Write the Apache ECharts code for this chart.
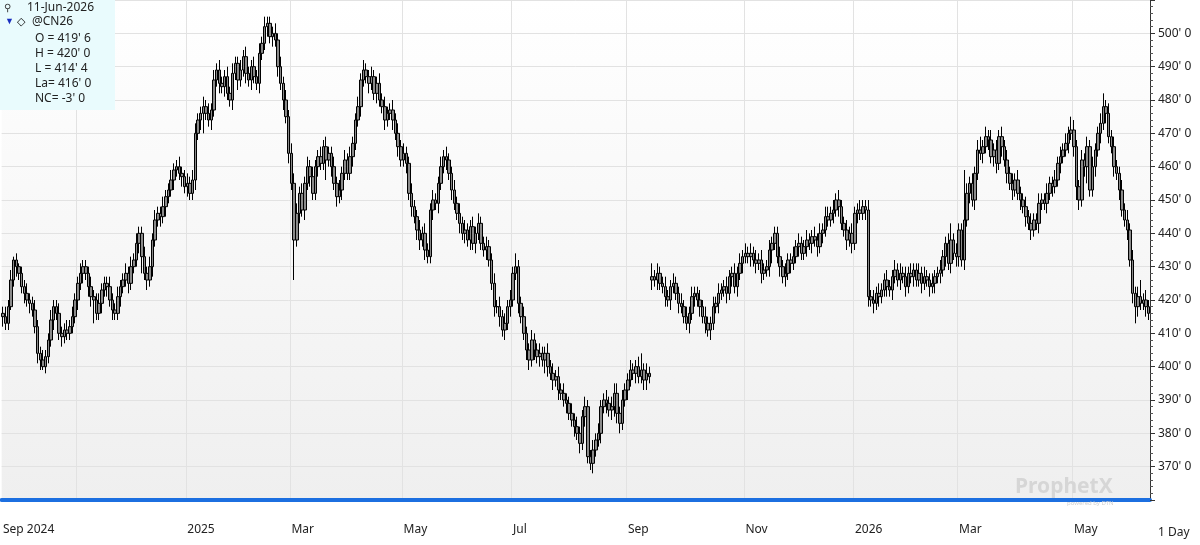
<!DOCTYPE html>
<html>
<head>
<meta charset="utf-8">
<script src="https://cdn.jsdelivr.net/npm/echarts@6/dist/echarts.min.js"></script>
<style>
  html, body { margin: 0; padding: 0; background: #fff; }
  #chart { width: 1200px; height: 545px; }
</style>
</head>
<body>
<div id="chart"></div>
<script>
// daily closes (cents/bu), last bar = 11-Jun-2026
const closes = [
  415,413,418,426,432,430,428,424,422,420,
  419,417,412,404,402,400,403,408,414,418,
  416,410,409,411,410,412,415,420,425,428,
  430,428,424,421,420,416,419,423,425,424,
  420,417,416,421,424,426,428,425,430,432,
  437,440,433,428,426,430,438,444,446,445,
  448,451,453,456,459,460,458,457,454,455,
  452,456,470,474,476,478,476,474,477,486,
  489,485,484,487,482,480,488,491,486,489,
  493,488,486,490,487,485,494,497,502,503,
  499,500,498,490,485,480,475,464,455,438,
  446,452,447,455,460,457,452,460,463,461,
  466,462,464,460,455,451,453,458,462,458,
  463,467,474,478,486,489,487,485,487,482,
  485,480,478,474,476,477,474,470,466,462,
  464,461,452,448,445,441,438,440,435,433,
  447,450,449,455,460,463,462,458,453,449,
  446,443,440,441,438,442,437,440,443,437,
  435,436,432,425,418,418,415,411,413,418,
  420,428,430,419,415,410,405,402,408,405,
  403,404,402,404,400,398,396,397,393,392,
  390,389,386,384,382,380,377,385,388,373,
  371,375,378,380,388,390,389,387,388,392,
  386,383,390,393,396,399,398,400,397,399,
  396,398,397,427,426,428,425,424,421,420,
  424,425,422,419,418,415,413,416,421,422,
  420,418,415,413,411,413,418,419,422,423,
  424,422,427,428,424,428,431,433,434,433,
  434,432,431,432,428,429,430,435,437,440,
  433,430,427,428,432,431,433,436,437,434,
  436,438,437,439,438,436,440,441,445,444,
  446,447,450,448,443,441,438,440,437,446,
  447,446,448,447,421,420,419,422,421,423,
  426,424,423,427,429,426,428,427,424,428,
  427,429,426,428,425,427,426,424,425,427,
  428,429,433,437,431,438,434,433,441,432,
  444,452,455,450,458,465,464,466,469,468,
  463,465,461,469,466,462,458,455,453,456,
  452,450,448,445,443,441,444,443,449,450,
  449,452,455,454,456,461,463,465,467,470,
  471,466,454,450,462,460,466,453,460,465,
  470,473,478,476,469,466,460,458,453,447,
  444,441,432,422,418,421,419,420,418,416
];
// how far each day's high reaches above its body
const wickUp = [
  2,3,2,3,1,2,1,2,2,3, 2,2,3,2,2,3,2,2,3,2, 2,3,2,2,3,2,3,2,2,3, 2,2,2,3,2,2,3,2,2,2,
  3,2,2,3,2,2,3,2,3,2, 3,2,2,3,2,3,2,3,2,2, 3,2,2,3,2,2,3,2,2,3, 2,3,3,2,2,3,2,3,2,3,
  2,3,2,2,3,2,3,2,2,3, 2,3,2,2,3,2,3,2,3,2, 2,2,3,2,3,2,3,2,3,3, 3,2,3,2,3,2,3,2,2,3,
  2,3,2,2,3,2,3,2,3,2, 3,2,2,3,2,3,2,2,3,2, 2,3,2,3,2,2,3,2,3,2, 3,2,2,3,2,2,3,2,3,2,
  2,3,2,2,3,2,3,2,2,3, 2,3,2,3,2,2,3,2,3,2, 2,3,2,2,3,2,3,2,3,2, 3,2,4,2,2,3,2,2,3,2,
  2,3,2,2,3,2,3,2,3,2, 3,2,2,3,2,3,2,2,3,2, 2,3,2,3,2,2,3,2,3,3, 3,2,3,2,2,3,2,2,3,5,
  2,3,2,4,2,3,2,2,3,2, 2,3,2,2,3,2,3,2,3,2, 2,3,2,3,2,2,3,2,3,2, 2,3,2,2,3,2,3,2,3,2,
  3,2,3,2,3,2,2,3,2,2, 2,3,2,3,2,2,3,2,3,2, 2,3,2,2,3,2,3,2,3,3, 2,3,2,3,2,2,3,2,3,2,
  2,3,2,2,3,2,3,2,3,2, 2,3,2,2,3,2,3,2,3,2, 3,2,2,3,2,3,2,2,3,2, 2,3,2,2,3,5,2,3,2,2,
  15,3,2,3,2,3,4,2,3,2, 3,2,3,2,3,2,3,2,3,2, 3,2,2,3,2,3,2,2,3,2, 2,3,2,2,3,2,3,2,3,2,
  4,3,2,2,3,2,3,2,3,2, 2,3,4,2,3,2,3,2,2,3, 2,3,2,3,2,3,5,2,3,2
];
// how far each day's low reaches below its body
const wickDown = [
  3,2,2,1,2,3,2,2,3,2, 3,2,2,3,3,1,2,2,2,3, 2,2,3,2,2,2,2,2,3,2, 3,2,3,3,7,2,2,3,2,3,
  2,3,2,2,3,2,2,3,2,2, 2,3,5,2,3,2,3,2,2,3, 2,3,2,2,3,2,2,3,2,3, 2,2,3,2,3,6,2,2,3,2,
  2,3,2,3,2,2,3,2,3,2, 2,3,2,3,2,2,3,2,2,3, 2,3,2,3,2,3,2,3,2,12, 2,3,2,3,2,3,2,2,3,2,
  2,6,2,3,2,3,2,3,2,2, 2,3,2,2,3,2,2,3,2,2, 3,2,2,3,2,2,3,2,3,2, 2,3,2,3,2,3,3,2,3,2,
  2,3,2,3,2,2,3,2,3,2, 2,3,2,3,2,3,2,3,2,2, 2,3,2,2,3,2,3,2,3,2, 3,2,2,3,2,2,3,3,2,3,
  2,3,2,4,3,2,3,2,3,2, 2,3,2,2,3,2,3,2,3,2, 2,3,2,2,3,2,3,2,3,3, 3,3,2,2,3,2,2,3,2,2,
  3,3,2,3,2,3,2,2,3,2, 3,2,2,3,2,2,2,3,2,3, 2,3,2,3,2,3,2,2,3,2, 2,3,2,3,2,3,2,3,2,2,
  3,2,3,2,3,2,2,3,4,2, 2,3,2,3,2,3,2,2,3,2, 2,3,2,3,2,3,2,3,2,2, 2,3,2,3,2,2,3,2,3,2,
  3,2,2,3,3,2,3,2,3,2, 2,3,2,3,2,2,3,2,3,2, 2,3,2,2,3,2,2,3,2,3, 2,3,2,3,2,3,2,3,3,2,
  3,2,3,2,3,2,2,3,2,3, 2,3,3,2,3,2,3,2,3,2, 2,3,2,3,2,3,2,2,3,2, 2,3,2,3,2,2,3,2,2,3,
  2,3,4,3,2,3,5,2,2,3, 2,3,2,3,2,2,3,2,3,2, 2,3,2,3,5,3,2,2,3,2
];
const holidays = ['2024-09-02','2024-11-28','2024-12-25','2025-01-01','2025-01-09','2025-01-20',
  '2025-02-17','2025-04-18','2025-05-26','2025-06-19','2025-07-04','2025-09-01','2025-11-27',
  '2025-12-25','2026-01-01','2026-01-19','2026-02-16','2026-04-03','2026-05-25'];
const monthNames = ['Jan','Feb','Mar','Apr','May','Jun','Jul','Aug','Sep','Oct','Nov','Dec'];
const labelMonths = [0, 2, 4, 6, 8, 10];

// trading days, counted back from the last bar
const dates = [];
let d = new Date(Date.UTC(2026, 5, 11));
while (dates.length < closes.length) {
    const s = d.toISOString().slice(0, 10);
    const wd = d.getUTCDay();
    if (wd !== 0 && wd !== 6 && holidays.indexOf(s) < 0) dates.unshift(s);
    d.setUTCDate(d.getUTCDate() - 1);
}
const monthStart = dates.map((s, i) => i > 0 && s.slice(5, 7) !== dates[i - 1].slice(5, 7));
const isGridMonth = (i) => monthStart[i] && labelMonths.indexOf(+dates[i].slice(5, 7) - 1) >= 0;
const isLabel = (i) => i === 0 || (isGridMonth(i) && dates[i].slice(0, 7) !== '2024-11');

const ohlc = closes.map((c, i) => {
    let o = i > 0 ? closes[i - 1] : c + 1;
    if (c - o > 20) o = c - 1;   // contract roll gap
    const hi = Math.max(o, c) + wickUp[i];
    const lo = Math.min(o, c) - wickDown[i];
    return [o, c, lo, hi];
});

const chart = echarts.init(document.getElementById('chart'));
const font = 'Noto Sans';
option = {
    animation: false,
    backgroundColor: '#fff',
    textStyle: { fontFamily: font },
    grid: {
        left: 0, right: 50, top: 0, bottom: 45, show: true, borderWidth: 0,
        backgroundColor: new echarts.graphic.LinearGradient(0, 0, 0, 1, [
            { offset: 0, color: '#ffffff' }, { offset: 1, color: '#efefef' }])
    },
    xAxis: {
        type: 'category',
        data: dates,
        boundaryGap: true,
        axisLine: { lineStyle: { color: '#1c6fe0', width: 4 } },
        axisTick: {
            interval: (i) => monthStart[i], length: 5,
            lineStyle: { color: '#555' }
        },
        axisLabel: {
            interval: (i) => isLabel(i),
            align: 'left', margin: 24, color: '#222', fontSize: 12, fontFamily: font,
            formatter: (v, i) => {
                const m = +v.slice(5, 7) - 1;
                if (i === 0) return monthNames[m] + ' ' + v.slice(0, 4);
                if (m === 0) return v.slice(0, 4);
                return monthNames[m];
            }
        },
        splitLine: { show: true, interval: (i) => isGridMonth(i), lineStyle: { color: '#e2e2e2' } }
    },
    yAxis: {
        type: 'value',
        position: 'right',
        min: 360, max: 510, interval: 10,
        axisLine: { show: true, lineStyle: { color: '#333' } },
        axisTick: { show: true, length: 5, lineStyle: { color: '#333' } },
        minorTick: { show: true, splitNumber: 5, length: 3, lineStyle: { color: '#555' } },
        axisLabel: {
            color: '#222', fontSize: 12, fontFamily: font, margin: 8,
            formatter: (v) => (v === 360 || v === 510) ? '' : v + "' 0"
        },
        splitLine: { lineStyle: { color: '#e2e2e2' } }
    },
    series: [{
        type: 'candlestick',
        data: ohlc,
        barWidth: 3,
        itemStyle: {
            color: '#8a8a8a', color0: '#8a8a8a',
            borderColor: '#000', borderColor0: '#000', borderWidth: 1
        },
        markLine: {
            silent: true, symbol: 'none',
            lineStyle: { opacity: 0 },
            label: {
                position: 'end', distance: 4, formatter: "416' 0",
                color: '#fff', backgroundColor: '#000', padding: [2, 10, 2, 3],
                fontSize: 12, fontFamily: font
            },
            data: [{ yAxis: 416 }]
        }
    }],
    graphic: [
        { type: 'rect', left: 0, top: 0, shape: { width: 115, height: 110 }, style: { fill: '#e9fbfd' }, z: 10 },
        { type: 'text', left: 4, top: 3, style: { text: '⚲', fontSize: 10, fill: '#333' }, z: 11 },
        { type: 'text', left: 27, top: 2, style: { text: '11-Jun-2026', fontSize: 12, fill: '#222', fontFamily: font }, z: 11 },
        { type: 'text', left: 5, top: 17, style: { text: '▼', fontSize: 9, fill: '#1a2fc0' }, z: 11 },
        { type: 'text', left: 17, top: 16, style: { text: '◇', fontSize: 11, fill: '#000' }, z: 11 },
        { type: 'text', left: 32, top: 16, style: { text: '@CN26', fontSize: 12, fill: '#222', fontFamily: font }, z: 11 },
        { type: 'text', left: 35, top: 31, style: { text: "O = 419' 6\nH = 420' 0\nL = 414' 4\nLa= 416' 0\nNC= -3' 0",
            fontSize: 12, lineHeight: 15, fill: '#222', fontFamily: font }, z: 11 },
        { type: 'text', left: 1015, top: 477, style: { text: 'ProphetX', fontSize: 21, fontWeight: 'bold', fill: '#d6d6d6', fontFamily: font }, z: 1 },
        { type: 'text', left: 1067, top: 500, style: { text: 'powered by DTN', fontSize: 6, fill: '#d0d0d0', fontFamily: font }, z: 1 },
        { type: 'text', left: 1158, top: 527, style: { text: '1 Day', fontSize: 12, fill: '#222', fontFamily: font } }
    ]
};
chart.setOption(option);
</script>
</body>
</html>
